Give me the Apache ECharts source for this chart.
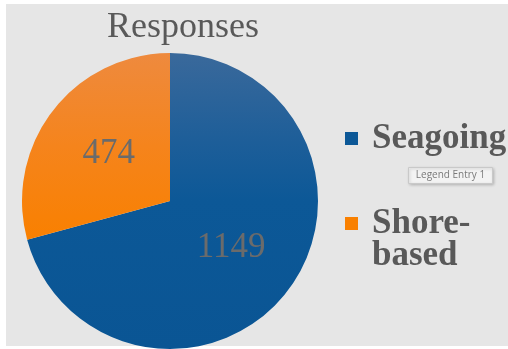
<!DOCTYPE html>
<html>
<head>
<meta charset="utf-8">
<script src="https://cdn.jsdelivr.net/npm/echarts@6/dist/echarts.min.js"></script>
<style>
html,body{margin:0;padding:0;background:#fff;}
#c{width:508px;height:349px;}
</style>
</head>
<body>
<div id="c"></div>
<script>
var categories = ['Seagoing', 'Shore-based'];
var values = [1149, 474];
var colorStops = [
  [[0, '#3a699b'], [0.3, '#1d5e99'], [0.5, '#0c5897'], [1, '#0a5594']],
  [[0, '#ee8a3e'], [0.5, '#f5841c'], [1, '#f98000']]
];
var titleText = 'Responses';
var hoverNote = 'Legend Entry 1';

var chart = echarts.init(document.getElementById('c'), null, {renderer: 'canvas'});
var serif = '"Liberation Serif", "Times New Roman", serif';
function grad(stops) {
  return new echarts.graphic.LinearGradient(0, 0, 0, 1, stops.map(function (s) { return {offset: s[0], color: s[1]}; }));
}
var option = {
  backgroundColor: '#ffffff',
  animation: false,
  title: {
    text: titleText,
    left: 107, top: 8, padding: 0,
    textStyle: {fontFamily: serif, fontSize: 36, fontWeight: 'normal', color: '#595959', lineHeight: 40}
  },
  graphic: [
    {type: 'rect', z: -10, shape: {x: 6, y: 4, width: 502, height: 342}, style: {fill: '#e6e6e6'}, silent: true},
    {type: 'group', left: 408, top: 167, z: 100, children: [
      {type: 'rect', shape: {x: 0, y: 0, width: 84, height: 16}, style: {fill: '#f3f3f3', stroke: '#c9c9c9', lineWidth: 1, shadowBlur: 3, shadowColor: 'rgba(0,0,0,0.2)', shadowOffsetX: 1, shadowOffsetY: 1}},
      {type: 'text', x: 42, y: 8, style: {text: hoverNote, fill: '#7a7a7a', font: '10px "Open Sans", sans-serif', align: 'center', verticalAlign: 'middle'}}
    ]}
  ],
  legend: [
    {
      data: [{name: categories[0]}],
      left: 345, top: 121, padding: 0, orient: 'vertical',
      itemWidth: 13, itemHeight: 13, icon: 'rect', selectedMode: false,
      itemStyle: {color: colorStops[0][2][1]},
      textStyle: {fontFamily: serif, fontSize: 35, fontWeight: 'bold', color: '#595959', lineHeight: 32, padding: [0, 0, 0, 9]}
    },
    {
      data: [{name: categories[1]}],
      left: 345, top: 174, padding: 0, orient: 'vertical',
      itemWidth: 13, itemHeight: 13, icon: 'rect', selectedMode: false,
      itemStyle: {color: colorStops[1][2][1]},
      formatter: function (n) { return '\n' + n.replace('-', '-\n'); },
      textStyle: {fontFamily: serif, fontSize: 35, fontWeight: 'bold', color: '#595959', lineHeight: 32, padding: [0, 0, 0, 9]}
    }
  ],
  series: [{
    type: 'pie',
    center: [170, 201],
    radius: 148,
    startAngle: 90,
    clockwise: true,
    silent: true,
    label: {
      show: true, position: 'inside', formatter: '{c}',
      fontFamily: serif, fontSize: 35, color: '#6b6b6b'
    },
    labelLine: {show: false},
    itemStyle: {borderWidth: 0},
    data: categories.map(function (c, i) {
      return {name: c, value: values[i], itemStyle: {color: grad(colorStops[i])}};
    })
  }]
};
chart.setOption(option);
</script>
</body>
</html>
